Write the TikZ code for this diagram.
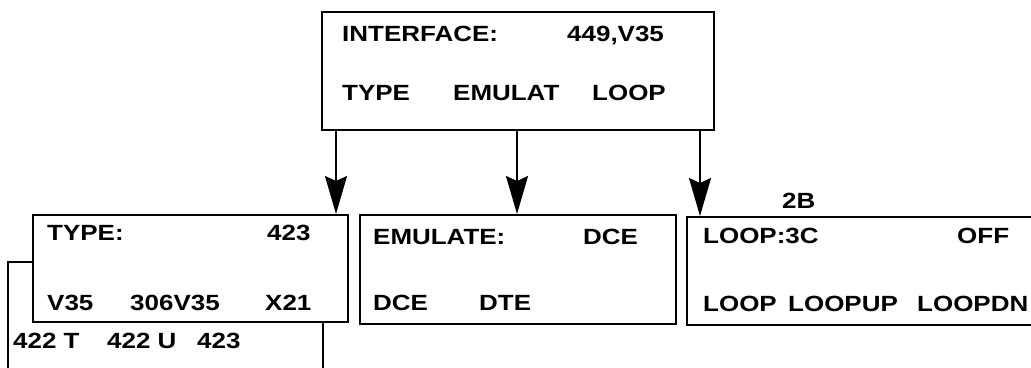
\documentclass[tikz,border=0pt]{standalone}
\usepackage{fontspec}
\newfontfamily\lcd{Liberation Sans}[FakeStretch=1.18]
\usetikzlibrary{arrows.meta}
\begin{document}
\begin{tikzpicture}[x=1pt,y=-1pt,
  box/.style={draw, line width=2pt, fill=white, rectangle, inner sep=0pt},
  lbl/.style={anchor=base west, inner sep=0pt, font=\fontsize{22}{26}\lcd\bfseries},
  arr/.style={line width=2pt, -{Stealth[length=38pt,width=22pt,inset=5pt]}}]
\useasboundingbox (0,0) rectangle (1031,367);
\clip (0,0) rectangle (1031,367);
% back box (behind TYPE box)
\node[box, minimum width=315pt, minimum height=160pt] (back) at (165.5,342) {};
% boxes
\node[box, minimum width=392pt, minimum height=118pt] (top) at (518,71) {};
\node[box, minimum width=315pt, minimum height=107pt] (typebox) at (190.5,268.5) {};
\node[box, minimum width=316pt, minimum height=109pt] (emubox) at (518,269.5) {};
\node[box, minimum width=358pt, minimum height=108pt] (loopbox) at (866,271) {};
% arrows
\coordinate (c1) at (336,0);
\coordinate (c2) at (517,0);
\coordinate (c3) at (700,0);
\draw[arr] (top.south -| c1) -- (typebox.north -| c1);
\draw[arr] (top.south -| c2) -- (emubox.north -| c2);
\draw[arr] (top.south -| c3) -- (loopbox.north -| c3);
% top box texts
\node[lbl] (t1) at (342,41) {INTERFACE:};
\node[lbl] (t2) at (567,41) {449,V35};
\node[lbl] (t3) at (342,100) {TYPE};
\node[lbl] (t4) at (453,100) {EMULAT};
\node[lbl] (t5) at (592,100) {LOOP};
% type box texts
\node[lbl] (y1) at (47,240) {TYPE:};
\node[lbl] (y2) at (267,240) {423};
\node[lbl] (y3) at (47,310) {V35};
\node[lbl] (y4) at (130,310) {306V35};
\node[lbl] (y5) at (265,310) {X21};
% back box texts
\node[lbl] (b1) at (13,348) {422 T};
\node[lbl] (b2) at (107,348) {422 U};
\node[lbl] (b3) at (197,348) {423};
% emulate box texts
\node[lbl] (e1) at (373,244) {EMULATE:};
\node[lbl] (e2) at (583,244) {DCE};
\node[lbl] (e3) at (373,310) {DCE};
\node[lbl] (e4) at (479,310) {DTE};
% loop box texts
\node[lbl] (l0) at (782,208) {2B};
\node[lbl] (l1) at (703,243) {LOOP:3C};
\node[lbl] (l2) at (957,243) {OFF};
\node[lbl] (l3) at (703,311) {LOOP};
\node[lbl] (l4) at (788,311) {LOOPUP};
\node[lbl] (l5) at (917,311) {LOOPDN};
\end{tikzpicture}
\end{document}
